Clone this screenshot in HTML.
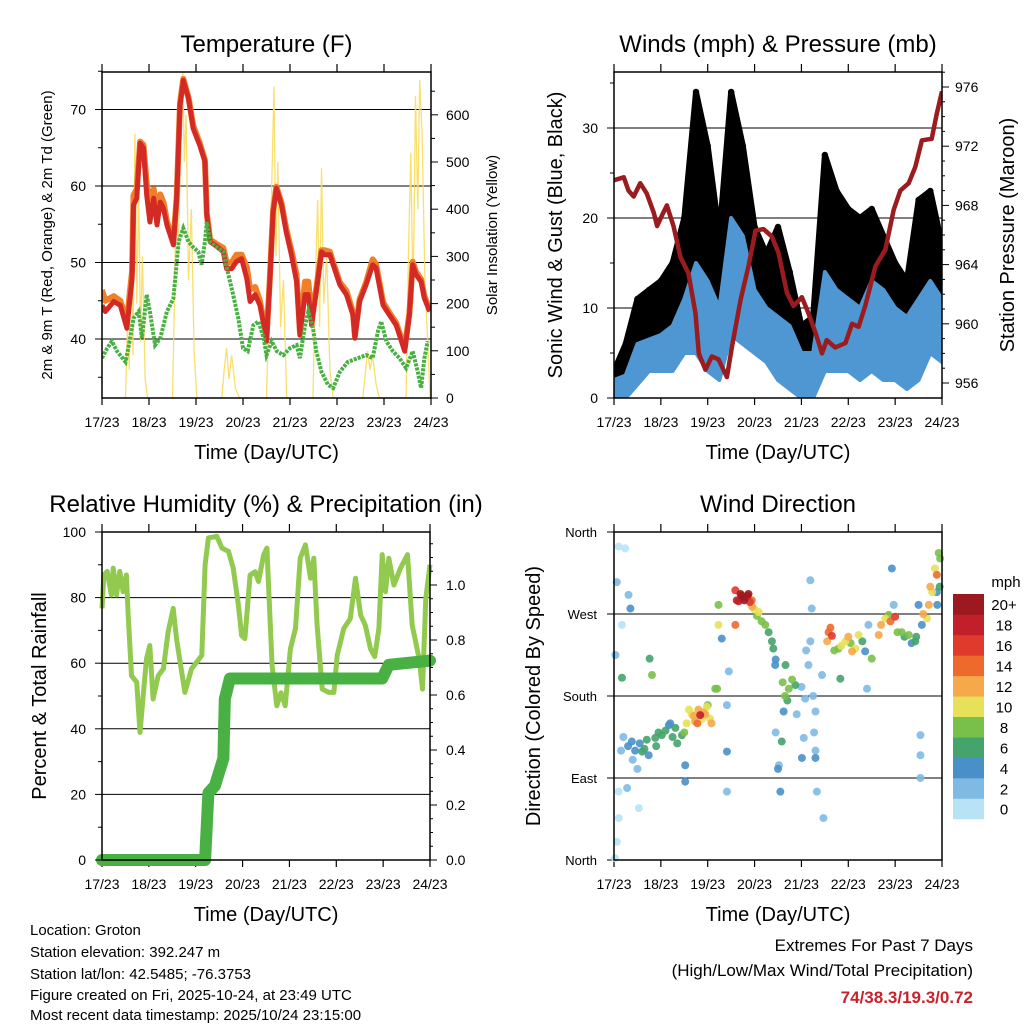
<!DOCTYPE html>
<html><head><meta charset="utf-8"><style>
body{margin:0;background:#fff;}
svg{display:block;font-family:"Liberation Sans",Arial,sans-serif;}
</style></head><body>
<svg id="fig" width="1024" height="1024" viewBox="0 0 1024 1024">
<rect width="1024" height="1024" fill="#fff"/>
<g id="p1"></g>
<g id="p2"></g>
<g id="p3"></g>
<g id="p4"></g>
<g font-size="15" fill="#000">
<text x="30" y="935">Location: Groton</text>
<text x="30" y="957">Station elevation: 392.247 m</text>
<text x="30" y="979">Station lat/lon: 42.5485; -76.3753</text>
<text x="30" y="1000">Figure created on Fri, 2025-10-24, at 23:49 UTC</text>
<text x="30" y="1020">Most recent data timestamp: 2025/10/24 23:15:00</text>
</g>
<g text-anchor="end">
<text x="973" y="951" font-size="17">Extremes For Past 7 Days</text>
<text x="973" y="976" font-size="17">(High/Low/Max Wind/Total Precipitation)</text>
<text x="973" y="1003" font-size="17" font-weight="bold" fill="#c8232c">74/38.3/19.3/0.72</text>
</g>
</svg>
<script>
// ---------- data ----------
const dayLabels=["17/23","18/23","19/23","20/23","21/23","22/23","23/23","24/23"];
const tDays=[0,0.07,0.25,0.39,0.53,0.64,0.67,0.74,0.81,0.88,0.95,1.02,1.1,1.17,1.24,1.31,1.38,1.52,1.59,1.66,1.73,1.84,1.94,2.08,2.19,2.23,2.3,2.44,2.58,2.65,2.76,2.86,2.97,3.08,3.15,3.26,3.36,3.47,3.5,3.57,3.64,3.71,3.82,3.92,4.03,4.14,4.21,4.32,4.39,4.46,4.56,4.67,4.74,4.85,4.92,5.06,5.2,5.34,5.38,5.48,5.62,5.76,5.83,5.98,6.12,6.26,6.44,6.54,6.61,6.68,6.79,6.86,6.97];
const tRed=[44.4,43.6,44.9,44.4,41.4,47.9,57.5,58.4,65.6,65,58.8,55.3,58.4,54.9,57.9,57,54.9,52.3,58.4,70.6,73.8,71.4,67.5,65.3,63.2,56.2,52.7,52.1,51.4,49.2,49.2,50.1,50.5,47.9,44.9,45.8,44.4,41,39.7,47.5,56.6,59.7,57.5,54,51,47.5,40.5,45.8,45.8,41.8,46.2,51.4,51,51,49.7,47.1,45.8,43.1,40.1,44.9,47.1,49.7,49.3,44.4,43.1,41.8,38.4,43.1,49.7,48.4,47.5,45.3,43.6];
const tOrange=[46.4,45,45.6,45,42.4,48.9,58.8,59.6,65.8,65.4,60.3,57.8,59.6,56.4,58.9,57.8,55.4,52.8,58.6,70.8,74,71.6,67.9,65.6,63.4,56.4,53,52.4,51.9,50,50,51,51,49.4,46.5,46.8,45,41.4,40,47.8,56.8,59.9,57.8,54.4,51.6,48.4,41,47.5,47.5,43,46.6,51.6,51.6,51.4,50,47.4,46.3,43.5,40.4,45.2,47.4,50.4,49.8,44.8,43.4,42.1,38.8,43.4,50.1,48.8,47.8,45.6,43.9];
const tdDays=[0,0.11,0.21,0.32,0.5,0.6,0.67,0.78,0.85,0.95,1.02,1.13,1.24,1.38,1.52,1.63,1.73,1.84,1.94,2.05,2.12,2.19,2.23,2.3,2.44,2.58,2.69,2.79,2.9,3.0,3.1,3.22,3.33,3.44,3.5,3.61,3.72,3.86,4.0,4.14,4.21,4.32,4.39,4.49,4.56,4.67,4.81,4.92,5.06,5.23,5.45,5.62,5.76,5.87,5.94,6.05,6.19,6.33,6.47,6.61,6.72,6.79,6.86,6.93];
const tdVals=[37.5,38.8,39.7,38.4,37,40.1,42.7,43.6,40.1,45.8,43.6,39.2,40.1,43.6,45.3,52.7,54.5,52.7,52,51.4,49.7,52.7,55.3,52.7,52,51.4,48.4,45.8,42.7,38.8,38.4,41.8,42.3,40.1,37.9,39.7,38.4,37.9,38.8,39.2,37.5,41.8,43.6,41.4,38.4,35.7,34,33.6,35.7,37,37.5,37.9,37.5,41,42.3,39.7,38.4,37.5,36.2,38.4,35.7,33.6,37.5,39.7];
const solDays=[0.5,0.54,0.58,0.62,0.66,0.7,0.74,0.78,0.82,0.86,0.92,0.97,1.5,1.54,1.58,1.62,1.67,1.72,1.75,1.79,1.84,1.9,1.96,2.02,2.55,2.6,2.65,2.7,2.76,2.84,2.93,3.5,3.55,3.6,3.66,3.7,3.74,3.8,3.86,3.93,4.49,4.54,4.59,4.63,4.67,4.72,4.78,4.85,4.92,5.55,5.6,5.65,5.7,5.76,5.83,5.9,6.47,6.52,6.57,6.62,6.67,6.72,6.76,6.81,6.87,6.93,6.98];
const solVals=[0,150,60,380,90,560,200,450,120,300,40,0,0,200,450,300,520,692,500,600,250,400,100,0,0,60,106,40,90,20,0,0,200,400,660,300,500,150,250,0,0,250,420,150,487,200,300,60,0,0,50,100,60,90,30,0,0,300,520,200,640,400,674,560,250,120,0];

const wDays=[0,0.25,0.5,0.75,1,1.25,1.5,1.75,2,2.25,2.5,2.75,3,3.25,3.5,3.75,4,4.25,4.5,4.75,5,5.25,5.5,5.75,6,6.25,6.5,6.75,7];
const windHigh=[2,2.5,6,6.5,7,8,11,15,13,10,20,18,12,10,9,8,5,5,14,12,11,10,13,12,10,9,11,13,11];
const windLow=[0,0,1.5,3,3,3,5,5,3,2,7,6,5,4,2,1,0,0,3,3,3,2,3,2,2,1,2,5,4];
const gustHigh=[3,6,11,12,13,15,20,34,28,18,34,28,19,16,19,14,8,9,27,23,21,20,21,18,15,13,22,23,17];
const gustLow=[1,2,5,6,6,7,9,13,10,8,14,12,9,7,6,4,2,2,8,8,8,6,7,6,5,4,8,9,7];
const pDays=[0,0.21,0.31,0.42,0.56,0.7,0.85,0.92,1.02,1.13,1.27,1.42,1.59,1.74,1.81,1.95,2.09,2.23,2.41,2.52,2.7,2.87,3.02,3.19,3.37,3.51,3.69,3.83,4.01,4.15,4.3,4.44,4.54,4.72,4.94,5.08,5.22,5.36,5.58,5.79,5.97,6.11,6.29,6.43,6.57,6.78,6.89,7.0];
const pVals=[969.7,969.9,969,968.6,969.5,968.8,967.5,966.6,967.3,968,966.6,964.5,963.4,960.7,958,956.9,957.8,957.6,956.4,958.5,961.6,963.9,966.3,966.4,965.9,964.8,962.1,961.2,961.8,960.7,959.4,958,958.9,958.4,958.7,960,959.8,961.2,963.9,965,967.7,969,969.5,970.6,972.4,972.5,974.2,975.7];

const rhDays=[0,0.04,0.11,0.2,0.24,0.31,0.38,0.45,0.52,0.56,0.63,0.74,0.81,0.88,0.95,1.02,1.09,1.2,1.31,1.41,1.52,1.59,1.7,1.77,1.91,2.02,2.13,2.2,2.27,2.45,2.56,2.7,2.8,2.91,2.98,3.05,3.16,3.27,3.34,3.45,3.52,3.63,3.73,3.82,3.91,4.02,4.13,4.23,4.34,4.45,4.52,4.59,4.7,4.84,4.95,5.02,5.16,5.3,5.41,5.52,5.62,5.73,5.82,5.91,5.98,6.05,6.12,6.23,6.37,6.52,6.62,6.77,6.84,6.91,7.0];
const rhVals=[76.7,86.9,88,80.8,89,80.8,88,81.8,86.9,74.6,56.2,54.2,38.9,50.1,61.3,65.4,49.1,56.2,58.3,69.5,76.7,67.5,57.3,51.1,58.3,60.3,62.4,90,98.2,98.7,95.1,94.1,89,77.7,68.5,67.5,86.9,87.9,84.9,93.1,95.1,59.3,47,51,47,64.4,70.6,92,96.1,85.9,92,71.6,52.1,51.1,51.1,62.4,70.6,73.6,85.9,74.6,71.6,64.4,62,70.6,93.1,81.8,92,83.8,89,93.1,71.6,61.3,52.1,79.8,90];
const prDays=[0,2.2,2.27,2.41,2.59,2.62,2.73,5.98,6.12,7.0];
const prVals=[0,0,0.244,0.27,0.37,0.585,0.66,0.66,0.71,0.725];

const wdDay=[0.1,0.24,0.06,0.17,0.03,0.31,0.35,0.1,0.1,0.06,0.02,0.28,0.53,0.17,0.38,0.6,0.74,0.88,1.02,1.17,1.31,1.45,0.81,0.76,1.52,1.52,1.66,1.73,1.8,1.84,1.9,1.98,2.05,2.16,2.2,2.23,2.23,2.3,2.45,2.41,2.41,2.41,2.59,2.66,2.73,2.8,2.87,2.94,2.59,3.09,3.23,3.37,3.44,3.66,3.73,3.8,3.87,3.62,3.58,3.52,3.55,4.08,4.15,4.22,4.19,4.3,4.3,4.33,4.19,4.44,4.47,4.01,4.05,4.58,4.65,4.79,4.94,5.08,5.22,5.36,5.5,4.83,5.4,5.43,5.65,5.79,5.86,6.0,5.93,5.97,6.14,6.29,6.43,6.57,6.5,6.54,6.54,6.54,6.68,6.72,6.79,6.89,6.96,6.89,6.93,
 0.3,0.45,0.55,0.65,0.7,0.9,0.95,1.1,1.2,1.25,1.35,0.4,0.5,0.2,0.15,
 1.5,1.55,1.6,1.7,1.78,1.88,1.95,2.0,2.08,
 2.62,2.7,2.78,2.85,2.9,2.95,
 3.0,3.05,3.15,3.3,3.4,3.45,3.6,3.65,3.7,
 4.55,4.7,4.85,5.0,5.05,5.15,5.3,4.62,
 5.7,5.9,6.05,6.2,6.35,6.45,6.6,6.75,6.85,6.95,6.9,
 3.9,4.0,4.1,4.25,4.27,4.3,3.45,3.5];
const wdDir=[344,342,305,258,225,291,276,75,46,20,2,79,57,200,130,119,115,134,137,148,145,137,203,221,86,104,160,152,165,159,162,168,155,188,188,280,258,243,207,170,119,75,258,284,290,288,292,285,296,272,258,240,214,214,188,198,192,163,130,104,75,177,214,276,240,163,112,75,307,203,46,112,134,250,246,232,240,229,247,229,221,199,188,258,247,265,269,267,320,280,250,247,240,258,280,137,115,90,265,280,294,313,331,294,337,
 125,120,128,122,132,125,140,142,150,135,128,110,100,135,120,
 140,150,165,158,150,155,160,170,150,
 285,292,285,290,283,278,
 275,268,262,250,232,220,195,180,175,
 240,230,235,245,238,232,240,255,
 258,262,250,245,238,245,270,300,320,300,280,
 160,190,230,180,140,120,140,100];
const wdSpd=[0,0,1,0,1,2,3,0,0,0,0,1,0,6,3,5,4,5,6,4,6,5,7,6,4,4,10,12,11,17,12,9,10,8,8,7,9,4,1,2,3,2,13,18,20,17,19,14,16,10,7,6,4,6,7,7,6,3,6,1,4,2,1,1,2,2,3,2,1,2,1,3,2,14,15,8,10,12,10,4,7,6,2,1,12,10,7,16,4,1,8,7,5,4,4,1,1,1,10,12,10,13,7,4,7,
 3,4,3,5,6,6,5,6,4,6,5,2,2,1,2,
 8,10,10,12,13,10,11,8,12,
 17,19,20,18,16,12,
 10,8,7,6,6,4,8,7,6,
 12,8,10,11,8,9,6,13,
 11,14,8,6,4,5,11,12,10,6,4,
 2,2,2,1,2,1,2,3];
const cbColors=["#b8e3f7","#7ebae4","#4a90c8","#45a36c","#79c04a","#e6e158","#f6a94a","#ee6a2c","#e03a2c","#c11f2a","#9c1a1f"];
const cbLabels=["0","2","4","6","8","10","12","14","16","18","20+"];

// ---------- helpers ----------
const NS="http://www.w3.org/2000/svg";
function mk(parent,tag,attrs){const e=document.createElementNS(NS,tag);for(const k in attrs)e.setAttribute(k,attrs[k]);parent.appendChild(e);return e;}
function txt(parent,x,y,s,size,anchor,rot){const t=mk(parent,'text',{x:x,y:y,'font-size':size,'text-anchor':anchor||'middle'});if(rot)t.setAttribute('transform','rotate(-90 '+x+' '+y+')');t.textContent=s;return t;}
function pathD(xs,ys){return xs.map((x,i)=>(i?'L':'M')+x.toFixed(1)+' '+ys[i].toFixed(1)).join(' ');}

function frame(g,x0,x1,y0,y1,title,xlabel){
  const xs=d=>x0+d/7*(x1-x0);
  for(let i=0;i<=7;i++){
    const x=xs(i);
    const tk=mk(g,'line',{x1:x,x2:x,y1:y1,y2:y1+7,stroke:'#000','stroke-width':1.2});
    
    
    mk(g,'line',{x1:x,x2:x,y1:y0-8,y2:y0,stroke:'#000','stroke-width':1.2});
    const t=txt(g,x,y1+29,dayLabels[i],14);
    
    
  }
  const tt=txt(g,(x0+x1)/2,y0-20,title,24);
  
  
  const xl=txt(g,(x0+x1)/2,y1+61,xlabel,20);
  
  
  return xs;
}
function box(g,x0,x1,y0,y1){mk(g,'rect',{x:x0,y:y0,width:x1-x0,height:y1-y0,fill:'none',stroke:'#000','stroke-width':1.5});}
function grid(g,x0,x1,y){const l=mk(g,'line',{x1:x0,x2:x1,y1:y,y2:y,stroke:'#000','stroke-width':1});}
function yTick(g,x,y,dir,len,label,lx,anchor,size){
  mk(g,'line',{x1:x,x2:x+dir*len,y1:y,y2:y,stroke:'#000','stroke-width':1});
  if(label!==null){const t=txt(g,lx,y+5,label,size||14,anchor);}
}

// ---------- Panel 1: temperature ----------
(function(){
  const g=document.getElementById('p1');const x0=102,x1=431,y0=72,y1=398;
  const xs=frame(g,x0,x1,y0,y1,'Temperature (F)','Time (Day/UTC)');
  const yT=v=>339-(v-40)*7.65, yS=v=>398-v*0.472;
  [40,50,60,70].forEach(v=>grid(g,x0,x1,yT(v)));
  const clip=mk(g,'clipPath',{id:'c1'});mk(clip,'rect',{x:x0,y:y0,width:x1-x0,height:y1-y0});
  const gg=mk(g,'g',{'clip-path':'url(#c1)'});
  const sol=mk(gg,'path',{d:pathD(solDays.map(xs),solVals.map(yS)),fill:'none',stroke:'#f9dc5c','stroke-width':1.3,opacity:0.9});
  
  const o=mk(gg,'path',{d:pathD(tDays.map(xs),tOrange.map(yT)),fill:'none',stroke:'#f07f2a','stroke-width':6,'stroke-linejoin':'round'});
  
  const r=mk(gg,'path',{d:pathD(tDays.map(xs),tRed.map(yT)),fill:'none',stroke:'#d42a25','stroke-width':5,'stroke-linejoin':'round'});
  
  const gd=mk(gg,'path',{d:pathD(tdDays.map(xs),tdVals.map(yT)),fill:'none',stroke:'#49b043','stroke-width':4,'stroke-dasharray':'3 1.2'});
  
  box(g,x0,x1,y0,y1);
  for(let v=35;v<=75;v+=5){yTick(g,x0,yT(v),-1,v%10?4:7,v%10?null:String(v),86,'end',14);}
  for(let v=0;v<=650;v+=50){if(yS(v)>=y0)yTick(g,x1,yS(v),1,v%100?4:7,v%100?null:String(v),446,'start',14);}
  const yl=txt(g,52,235,'2m & 9m T (Red, Orange) & 2m Td (Green)',15,'middle',true);
  
  const yr=txt(g,497,235,'Solar Insolation (Yellow)',15,'middle',true);
  
})();

// ---------- Panel 2: winds & pressure ----------
(function(){
  const g=document.getElementById('p2');const x0=614,x1=942,y0=72,y1=398;
  const xs=frame(g,x0,x1,y0,y1,'Winds (mph) & Pressure (mb)','Time (Day/UTC)');
  const yW=v=>398-v*9, yP=v=>383-(v-956)*14.8;
  [10,20,30].forEach(v=>grid(g,x0,x1,yW(v)));
  const clip=mk(g,'clipPath',{id:'c2'});mk(clip,'rect',{x:x0,y:y0,width:x1-x0,height:y1-y0});
  const gg=mk(g,'g',{'clip-path':'url(#c2)'});
  const gx=wDays.map(xs);
  const gband=mk(gg,'path',{d:pathD(gx.concat(gx.slice().reverse()),gustHigh.map(yW).concat(gustLow.map(yW).reverse()))+'Z',fill:'#000',stroke:'#000','stroke-width':6,'stroke-linejoin':'round'});
  
  wDays.forEach((d,i)=>{const c=mk(gg,'circle',{cx:xs(d),cy:yW(gustHigh[i]),r:3.2,fill:'#000'});
    });
  const wband=mk(gg,'path',{d:pathD(gx.concat(gx.slice().reverse()),windHigh.map(yW).concat(windLow.map(yW).reverse()))+'Z',fill:'#4f97d2',stroke:'#4f97d2','stroke-width':4,'stroke-linejoin':'round'});
  
  const p=mk(gg,'path',{d:pathD(pDays.map(xs),pVals.map(yP)),fill:'none',stroke:'#9b1c1f','stroke-width':4.5,'stroke-linejoin':'round'});
  
  box(g,x0,x1,y0,y1);
  for(let v=0;v<=35;v+=5){yTick(g,x0,yW(v),-1,v%10?4:7,v%10?null:String(v),598,'end',14);}
  for(let v=956;v<=977;v+=1){yTick(g,x1,yP(v),1,v%4?3:7,v%4?null:String(v),955,'start',14);}
  const yl=txt(g,562,235,'Sonic Wind & Gust (Blue, Black)',20,'middle',true);
  
  const yr=txt(g,1014,235,'Station Pressure (Maroon)',20,'middle',true);
  
})();

// ---------- Panel 3: RH & precip ----------
(function(){
  const g=document.getElementById('p3');const x0=102,x1=430,y0=532,y1=860;
  const xs=frame(g,x0,x1,y0,y1,'Relative Humidity (%) & Precipitation (in)','Time (Day/UTC)');
  const yR=v=>860-v*3.28, yPr=v=>860-v*275;
  [20,40,60,80].forEach(v=>grid(g,x0,x1,yR(v)));
  const rh=mk(g,'path',{d:pathD(rhDays.map(xs),rhVals.map(yR)),fill:'none',stroke:'#92c94f','stroke-width':5,'stroke-linejoin':'round'});
  
  const pr=mk(g,'path',{d:pathD(prDays.map(xs),prVals.map(yPr)),fill:'none',stroke:'#49b043','stroke-width':12,'stroke-linejoin':'round','stroke-linecap':'round'});
  
  box(g,x0,x1,y0,y1);
  for(let v=0;v<=100;v+=10){yTick(g,x0,yR(v),-1,v%20?4:7,v%20?null:String(v),86,'end',14);}
  for(let k=0;k<=23;k++){const v=k*0.05;if(yPr(v)>=y0)yTick(g,x1,yPr(v),1,k%4?3:7,k%4?null:v.toFixed(1),446,'start',14);}
  const yl=txt(g,46,696,'Percent & Total Rainfall',20,'middle',true);
  
})();

// ---------- Panel 4: wind direction ----------
(function(){
  const g=document.getElementById('p4');const x0=614,x1=942,y0=532,y1=860;
  const xs=frame(g,x0,x1,y0,y1,'Wind Direction','Time (Day/UTC)');
  const yD=v=>860-v/90*82;
  [90,180,270].forEach(v=>grid(g,x0,x1,yD(v)));
  const dirLabels=["North","East","South","West","North"];
  dirLabels.forEach((s,i)=>yTick(g,x0,yD(i*90),-1,7,s,597,'end',13));
  const gg=mk(g,'g',{});
  const order=wdSpd.map((s,i)=>i).sort((a,b)=>wdSpd[a]-wdSpd[b]);
  order.forEach(i=>{
    const idx=Math.min(10,Math.round(wdSpd[i]/2));
    const c=mk(gg,'circle',{cx:xs(wdDay[i]),cy:yD(wdDir[i]),r:4,fill:cbColors[idx],opacity:0.9});
    
  });
  box(g,x0,x1,y0,y1);
  const yl=txt(g,540,696,'Direction (Colored By Speed)',20,'middle',true);
  
  const cb=mk(g,'g',{});
  
  const bx=953,bw=31,by=594,bh=20.45;
  cbColors.forEach((c,i)=>{
    const yy=by+(10-i)*bh;
    const r=mk(cb,'rect',{x:bx,y:yy,width:bw,height:bh+0.3,fill:c});
    
    const t=txt(cb,1004,yy+bh/2+6,cbLabels[i],15);
    
  });
  const u=txt(cb,1006,587,'mph',15);
  
})();
</script>
</body></html>
